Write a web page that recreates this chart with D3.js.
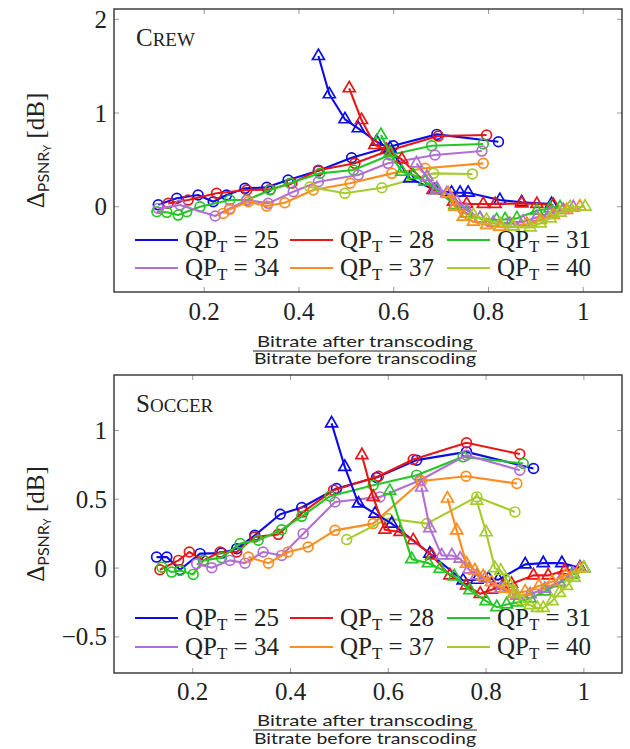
<!DOCTYPE html>
<html>
<head>
<meta charset="utf-8">
<script src="https://cdn.jsdelivr.net/npm/d3@7"></script>
<style>
    body { margin: 0; background: #fff; }
    svg { display: block; }
    .serif { font-family: 'Liberation Serif', 'DejaVu Serif', serif; }
    .sans { font-family: 'Lato', 'DejaVu Sans', sans-serif; }
</style>
</head>
<body>
<svg id="chart" width="630" height="749"></svg>
<script>
const QPS = [25, 28, 31, 34, 37, 40];
const COLOURS = ['#0c0ce8', '#e81616', '#26c626', '#b16fd3', '#ff8c1e', '#a6cc2c'];
const X_TICKS = [0.2, 0.4, 0.6, 0.8, 1];
const CREW_Y_TICKS = [0, 1, 2];
const SOCCER_Y_TICKS = [-0.5, 0, 0.5, 1];

// Crew: circles (before-transcoding curve) and triangles, one array per QP_T
const crewCirc25 = [[0.103,0.02],[0.142,0.09],[0.187,0.125],[0.219,0.053],[0.247,0.125],[0.286,0.196],[0.332,0.207],[0.377,0.285],[0.441,0.384],[0.511,0.523],[0.599,0.651],[0.691,0.772],[0.821,0.694]];
const crewCirc28 = [[0.124,0.036],[0.166,0.071],[0.226,0.143],[0.29,0.178],[0.339,0.185],[0.385,0.25],[0.441,0.39],[0.518,0.463],[0.59,0.6],[0.694,0.754],[0.796,0.765]];
const crewCirc31 = [[0.1,-0.053],[0.121,-0.06],[0.145,-0.089],[0.163,-0.053],[0.191,0.0],[0.254,0.071],[0.29,0.071],[0.339,0.178],[0.381,0.25],[0.444,0.356],[0.515,0.392],[0.592,0.552],[0.68,0.651],[0.789,0.669]];
const crewCirc34 = [[0.103,-0.018],[0.149,0.018],[0.223,-0.099],[0.254,-0.018],[0.29,0.071],[0.335,0.036],[0.388,0.16],[0.441,0.267],[0.525,0.338],[0.588,0.463],[0.687,0.552],[0.786,0.594]];
const crewCirc37 = [[0.24,-0.071],[0.254,-0.028],[0.293,0.053],[0.332,0.007],[0.37,0.043],[0.43,0.178],[0.508,0.25],[0.596,0.356],[0.666,0.41],[0.789,0.463]];
const crewCirc40 = [[0.423,0.21],[0.497,0.143],[0.575,0.203],[0.684,0.356],[0.766,0.35]];
const crewTri25 = [[0.441,1.608],[0.464,1.2],[0.497,0.933],[0.525,0.837],[0.564,0.694],[0.592,0.623],[0.634,0.303],[0.687,0.178],[0.722,0.149],[0.74,0.149],[0.757,0.149],[0.824,0.071],[0.87,0.047],[0.933,0.029]];
const crewTri28 = [[0.506,1.264],[0.532,0.925],[0.56,0.658],[0.585,0.605],[0.617,0.505],[0.683,0.178],[0.726,0.053],[0.754,0.029],[0.789,0.029],[0.814,0.029],[0.87,0.036],[0.902,0.029],[0.937,0.018]];
const crewTri31 = [[0.573,0.765],[0.592,0.57],[0.617,0.374],[0.641,0.338],[0.666,0.267],[0.691,0.178],[0.729,0.018],[0.754,-0.071],[0.782,-0.124],[0.817,-0.142],[0.835,-0.135],[0.86,-0.124],[0.902,-0.043],[0.93,-0.018],[0.951,-0.007]];
const crewTri34 = [[0.648,0.463],[0.67,0.32],[0.691,0.196],[0.712,0.143],[0.733,0.053],[0.754,-0.035],[0.782,-0.124],[0.81,-0.171],[0.845,-0.185],[0.873,-0.16],[0.902,-0.113],[0.93,-0.071],[0.958,-0.035],[0.979,-0.007]];
const crewTri37 = [[0.715,0.143],[0.729,0.0],[0.747,-0.107],[0.768,-0.16],[0.796,-0.195],[0.824,-0.213],[0.852,-0.213],[0.881,-0.185],[0.909,-0.142],[0.937,-0.089],[0.965,-0.035],[0.993,0.0]];
const crewTri40 = [[0.768,-0.089],[0.796,-0.142],[0.824,-0.185],[0.852,-0.213],[0.888,-0.22],[0.909,-0.178],[0.93,-0.124],[0.951,-0.064],[0.972,-0.007],[1.004,0.0]];

// Soccer
const soccerCirc25 = [[0.126,0.08],[0.147,0.08],[0.174,-0.012],[0.215,0.105],[0.259,0.109],[0.29,0.141],[0.327,0.238],[0.379,0.391],[0.423,0.44],[0.494,0.578],[0.576,0.658],[0.658,0.784],[0.76,0.844],[0.897,0.723]];
const soccerCirc28 = [[0.133,-0.012],[0.171,0.056],[0.193,0.117],[0.222,0.056],[0.256,0.117],[0.29,0.117],[0.327,0.226],[0.375,0.245],[0.426,0.408],[0.488,0.566],[0.58,0.667],[0.651,0.789],[0.76,0.91],[0.869,0.828]];
const soccerCirc31 = [[0.137,0.007],[0.157,-0.029],[0.174,-0.017],[0.201,-0.046],[0.222,0.056],[0.259,0.076],[0.297,0.178],[0.334,0.202],[0.382,0.279],[0.423,0.376],[0.481,0.522],[0.569,0.602],[0.658,0.675],[0.753,0.808],[0.876,0.76]];
const soccerCirc34 = [[0.208,0.032],[0.239,0.003],[0.276,0.056],[0.307,0.036],[0.344,0.117],[0.382,0.092],[0.426,0.25],[0.491,0.48],[0.583,0.517],[0.665,0.638],[0.76,0.82],[0.869,0.711]];
const soccerCirc37 = [[0.314,0.08],[0.355,0.036],[0.395,0.117],[0.436,0.153],[0.491,0.274],[0.569,0.323],[0.668,0.633],[0.759,0.667],[0.863,0.614]];
const soccerCirc40 = [[0.515,0.207],[0.6,0.36],[0.679,0.323],[0.781,0.517],[0.859,0.408]];
const soccerTri25 = [[0.484,1.051],[0.511,0.735],[0.539,0.469],[0.573,0.396],[0.607,0.323],[0.685,0.105],[0.753,-0.09],[0.781,-0.085],[0.805,-0.077],[0.825,-0.085],[0.88,0.027],[0.917,0.036],[0.955,0.036],[0.992,0.003]];
const soccerTri28 = [[0.546,0.82],[0.569,0.517],[0.593,0.279],[0.624,0.262],[0.651,0.202],[0.689,0.092],[0.726,-0.053],[0.76,-0.126],[0.788,-0.187],[0.811,-0.157],[0.835,-0.126],[0.852,-0.114],[0.897,-0.053],[0.927,-0.053],[0.961,-0.017],[0.992,-0.005]];
const soccerTri31 = [[0.603,0.56],[0.648,0.065],[0.682,0.035],[0.706,-0.005],[0.735,-0.06],[0.767,-0.16],[0.8,-0.24],[0.822,-0.284],[0.842,-0.264],[0.863,-0.25],[0.89,-0.22],[0.92,-0.17],[0.95,-0.11],[0.975,-0.05],[1.0,0.0]];
const soccerTri34 = [[0.668,0.585],[0.685,0.29],[0.709,0.092],[0.73,0.092],[0.747,0.068],[0.765,-0.01],[0.781,-0.053],[0.798,-0.077],[0.83,-0.15],[0.863,-0.2],[0.89,-0.19],[0.92,-0.15],[0.95,-0.1],[0.978,-0.04],[1.0,0.0]];
const soccerTri37 = [[0.721,0.505],[0.74,0.274],[0.76,0.032],[0.777,-0.017],[0.794,-0.06],[0.811,-0.102],[0.839,-0.15],[0.856,-0.187],[0.88,-0.17],[0.908,-0.13],[0.935,-0.1],[0.963,-0.05],[0.992,-0.005]];
const soccerTri40 = [[0.781,0.49],[0.8,0.26],[0.818,0.0],[0.83,-0.02],[0.845,-0.1],[0.86,-0.18],[0.875,-0.24],[0.89,-0.27],[0.905,-0.29],[0.917,-0.29],[0.935,-0.24],[0.95,-0.18],[0.965,-0.13],[0.98,-0.07],[1.0,0.0]];

const panels = [
    {
        title: ['C', 'REW'],
        box: { left: 114, right: 622, top: 9, bottom: 292 },
        xDomain: [0.0095, 1.0818],
        yDomain: [-0.91, 2.11],
        yTicks: CREW_Y_TICKS,
        circles: [crewCirc25, crewCirc28, crewCirc31, crewCirc34, crewCirc37, crewCirc40],
        triangles: [crewTri25, crewTri28, crewTri31, crewTri34, crewTri37, crewTri40],
        legendRows: [240, 268],
        labelOffsets: { tick: 28, num: 55, bar: 59, den: 72 }
    },
    {
        title: ['S', 'OCCER'],
        box: { left: 114, right: 622, top: 375, bottom: 673 },
        xDomain: [0.039, 1.078],
        yDomain: [-0.762, 1.4025],
        yTicks: SOCCER_Y_TICKS,
        circles: [soccerCirc25, soccerCirc28, soccerCirc31, soccerCirc34, soccerCirc37, soccerCirc40],
        triangles: [soccerTri25, soccerTri28, soccerTri31, soccerTri34, soccerTri37, soccerTri40],
        legendRows: [618, 647],
        labelOffsets: { tick: 27, num: 53, bar: 57, den: 71 }
    }
];

const LEGEND_COLS = [135, 290, 447];
const FONT = 25;
const svg = d3.select('#chart');

const fmt = v => (v < 0 ? '\u2212' : '') + String(Math.abs(v));

panels.forEach(p => drawPanel(p));

function drawPanel(p) {
    const b = p.box;
    const off = p.labelOffsets;
    const x = d3.scaleLinear().domain(p.xDomain).range([b.left, b.right]);
    const y = d3.scaleLinear().domain(p.yDomain).range([b.bottom, b.top]);
    const g = svg.append('g');

    // ticks on all four sides, pointing inwards
    const tickLen = 5;
    const tickStyle = s => s.attr('stroke', '#9a9a9a').attr('stroke-width', 1);
    X_TICKS.forEach(t => {
        g.append('line').attr('x1', x(t)).attr('x2', x(t)).attr('y1', b.bottom).attr('y2', b.bottom - tickLen).call(tickStyle);
        g.append('line').attr('x1', x(t)).attr('x2', x(t)).attr('y1', b.top).attr('y2', b.top + tickLen).call(tickStyle);
        g.append('text').attr('class', 'serif').attr('x', x(t)).attr('y', b.bottom + off.tick)
            .attr('text-anchor', 'middle').attr('font-size', FONT).attr('fill', '#222').text(fmt(t));
    });
    p.yTicks.forEach(t => {
        g.append('line').attr('x1', b.left).attr('x2', b.left + tickLen).attr('y1', y(t)).attr('y2', y(t)).call(tickStyle);
        g.append('line').attr('x1', b.right).attr('x2', b.right - tickLen).attr('y1', y(t)).attr('y2', y(t)).call(tickStyle);
        g.append('text').attr('class', 'serif').attr('x', b.left - 7).attr('y', y(t) + 8.5)
            .attr('text-anchor', 'end').attr('font-size', FONT).attr('fill', '#222').text(fmt(t));
    });

    // series
    const plot = g.append('g');
    const line = d3.line().x(d => x(d[0])).y(d => y(d[1]));
    const tri = d3.symbol().type(d3.symbolTriangle).size(62);
    QPS.forEach((qp, i) => {
        plot.append('path').attr('d', line(p.circles[i])).attr('fill', 'none')
            .attr('stroke', COLOURS[i]).attr('stroke-width', 2.1).attr('stroke-linejoin', 'round');
        plot.selectAll(null).data(p.circles[i]).enter().append('circle')
            .attr('cx', d => x(d[0])).attr('cy', d => y(d[1])).attr('r', 4.9)
            .attr('fill', 'none').attr('stroke', COLOURS[i]).attr('stroke-width', 1.7);
    });
    QPS.forEach((qp, i) => {
        plot.append('path').attr('d', line(p.triangles[i])).attr('fill', 'none')
            .attr('stroke', COLOURS[i]).attr('stroke-width', 2.1).attr('stroke-linejoin', 'round');
        plot.selectAll(null).data(p.triangles[i]).enter().append('path')
            .attr('d', tri).attr('transform', d => `translate(${x(d[0])},${y(d[1])})`)
            .attr('fill', 'none').attr('stroke', COLOURS[i]).attr('stroke-width', 1.7);
    });

    // frame
    g.append('rect').attr('x', b.left).attr('y', b.top)
        .attr('width', b.right - b.left).attr('height', b.bottom - b.top)
        .attr('fill', 'none').attr('stroke', '#222').attr('stroke-width', 1.3);

    // title in small caps
    const title = g.append('text').attr('class', 'serif').attr('x', b.left + 22).attr('y', b.top + 37).attr('fill', '#222');
    title.append('tspan').attr('font-size', 25).text(p.title[0]);
    title.append('tspan').attr('font-size', 19).text(p.title[1]);

    // legend
    QPS.forEach((qp, i) => {
        const lx = LEGEND_COLS[i % 3];
        const ly = p.legendRows[Math.floor(i / 3)];
        g.append('line').attr('x1', lx).attr('x2', lx + 43).attr('y1', ly).attr('y2', ly)
            .attr('stroke', COLOURS[i]).attr('stroke-width', 2.2);
        const t = g.append('text').attr('class', 'serif').attr('x', lx + 50).attr('y', ly + 8)
            .attr('font-size', FONT).attr('fill', '#222');
        t.append('tspan').text('QP');
        t.append('tspan').attr('font-size', 17).attr('dy', 4).text('T');
        t.append('tspan').attr('dy', -4).text(' = ' + qp);
    });

    // y label
    const cy = (b.top + b.bottom) / 2;
    const yl = g.append('text').attr('transform', `translate(44,${cy}) rotate(-90)`)
        .attr('text-anchor', 'middle').attr('fill', '#222');
    yl.append('tspan').attr('class', 'serif').attr('font-size', FONT).text('\u0394');
    yl.append('tspan').attr('class', 'sans').attr('font-size', 16).attr('dy', 5).text('PSNR');
    yl.append('tspan').attr('class', 'sans').attr('font-size', 11).attr('dy', 2).text('Y');
    yl.append('tspan').attr('class', 'serif').attr('font-size', FONT).attr('dy', -7).text(' [dB]');

    // x label as a fraction
    const cx = (b.left + b.right) / 2 - 3;
    const width = 222;
    g.append('text').attr('class', 'sans').attr('x', cx).attr('y', b.bottom + off.num)
        .attr('text-anchor', 'middle').attr('font-size', 15).attr('fill', '#222')
        .attr('textLength', width - 6).attr('lengthAdjust', 'spacingAndGlyphs')
        .text('Bitrate after transcoding');
    g.append('text').attr('class', 'sans').attr('x', cx).attr('y', b.bottom + off.den)
        .attr('text-anchor', 'middle').attr('font-size', 15).attr('fill', '#222')
        .attr('textLength', width).attr('lengthAdjust', 'spacingAndGlyphs')
        .text('Bitrate before transcoding');
    g.append('line').attr('x1', cx - width / 2 - 1).attr('x2', cx + width / 2 + 1)
        .attr('y1', b.bottom + off.bar).attr('y2', b.bottom + off.bar).attr('stroke', '#222').attr('stroke-width', 1);
}
</script>
</body>
</html>
